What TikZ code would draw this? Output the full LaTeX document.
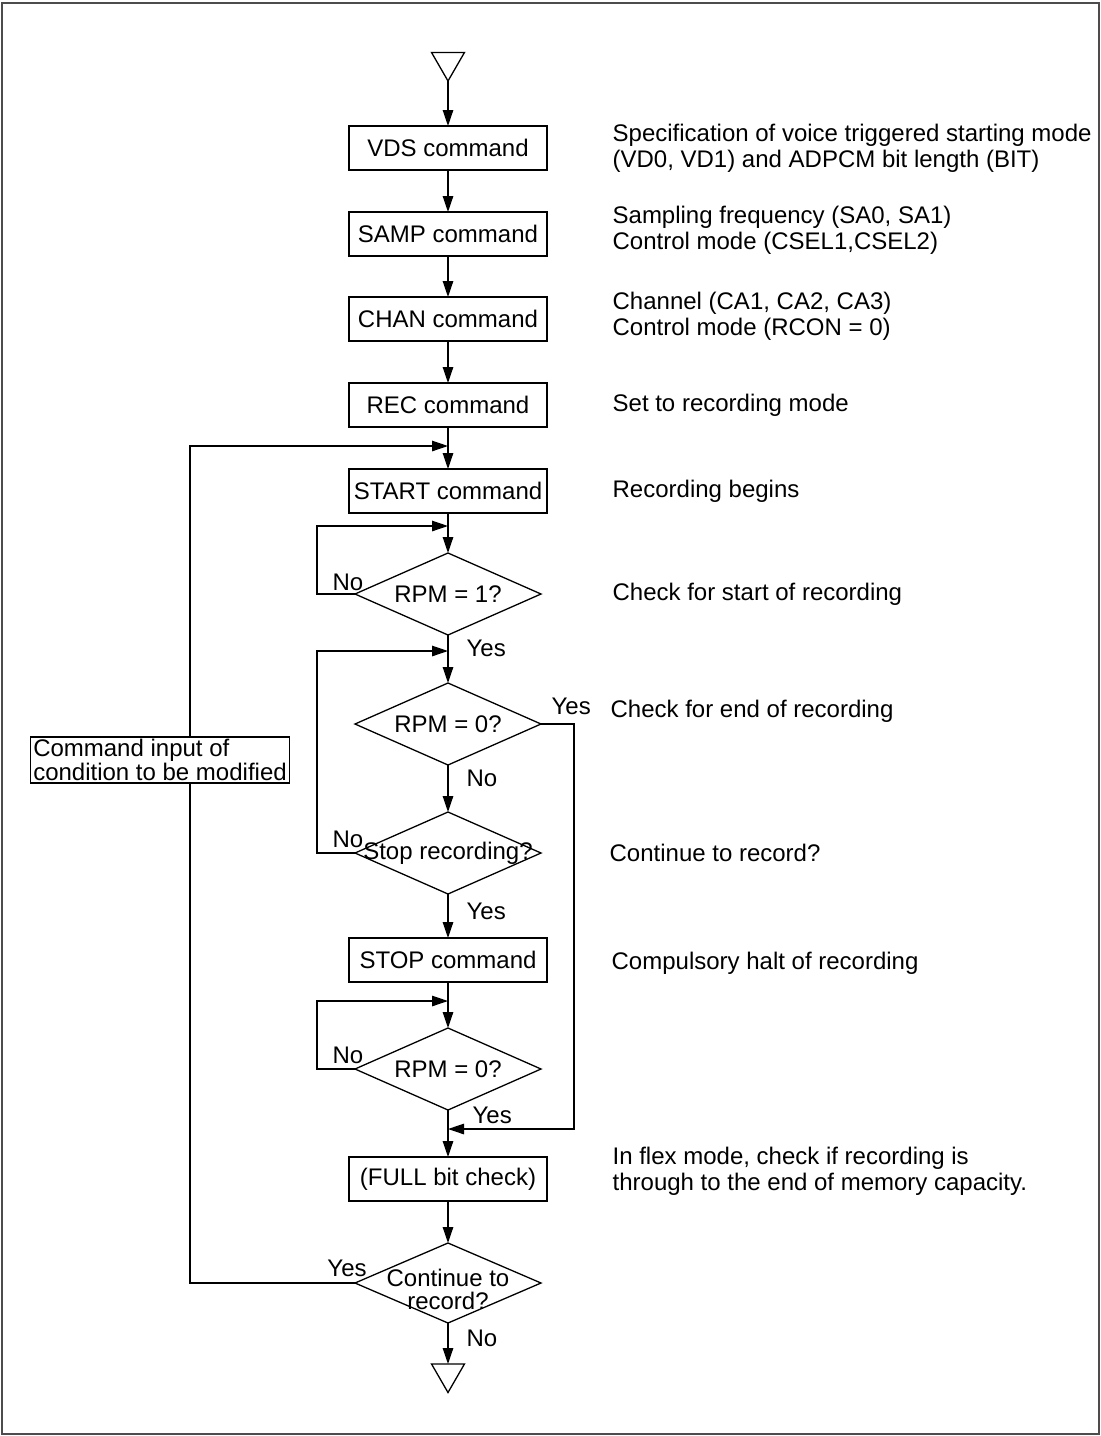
\documentclass[tikz,border=0pt]{standalone}
\usepackage{fontspec}
\setmainfont{Liberation Sans}
\usetikzlibrary{arrows.meta,positioning,shapes.geometric}

\begin{document}
\begin{tikzpicture}[
  font=\fontsize{24}{26}\selectfont,
  line width=1.3pt,
  box/.style={draw, minimum width=198pt, minimum height=44pt, inner sep=2pt,
    outer sep=0pt},
  decision/.style={draw, diamond, minimum width=186pt, minimum height=82pt,
    inner sep=0pt, outer sep=0pt},
  dtext/.style={inner sep=0pt, align=center, font=\fontsize{24}{23}\selectfont},
  terminal/.style={draw, regular polygon, regular polygon sides=3,
    shape border rotate=180, minimum size=38pt, inner sep=0pt, outer sep=0pt},
  note/.style={align=left, inner sep=0pt},
  tag/.style={inner sep=0pt, anchor=base},
  cmdbox/.style={draw, fill=white, align=left, inner sep=2.5pt,
    font=\fontsize{24}{18}\selectfont},
  arrow/.style={-{Triangle[length=16pt,width=10.5pt]}},
  node distance=42pt
]
\useasboundingbox (0,0) rectangle (1101pt,-1436pt);
\draw[black!70, line width=1.5pt] (2pt,-3pt) rectangle (1099pt,-1434pt);

% main column
\node[box] (vds) at (448pt,-148pt) {VDS command};
\node[terminal, above=45pt of vds] (begin) {};
\node[box, below=of vds] (samp) {SAMP command};
\node[box, below=41pt of samp] (chan) {CHAN command};
\node[box, below=of chan] (rec) {REC command};
\node[box, below=of rec] (start) {START command};
\node[decision, below=40pt of start, label={[dtext]center:RPM = 1?}] (rpmone) {};
\node[decision, below=48pt of rpmone, label={[dtext]center:RPM = 0?}] (rpmzero) {};
\node[decision, below=47pt of rpmzero, label={[dtext]center:Stop recording?}] (stoprec) {};
\node[box, below=44pt of stoprec] (stop) {STOP command};
\node[decision, below=46pt of stop, label={[dtext]center:RPM = 0?}] (rpmzerob) {};
\node[box, below=47pt of rpmzerob] (full) {(FULL bit check)};
\node[decision, minimum height=80pt, below=of full,
  label={[dtext,yshift=-6pt]center:Continue to\\record?}] (cont) {};
\node[terminal, below=41pt of cont] (finish) {};

% notes on the right
\node[note, right=65pt of vds] (vdsnote) {Specification of voice triggered starting mode\\(VD0, VD1) and ADPCM bit length (BIT)};
\node[note, right=65pt of samp, yshift=4pt] (sampnote) {Sampling frequency (SA0, SA1)\\Control mode (CSEL1,CSEL2)};
\node[note, right=65pt of chan, yshift=3pt] (channote) {Channel (CA1, CA2, CA3)\\Control mode (RCON = 0)};
\node[note, right=65pt of rec] (recnote) {Set to recording mode};
\node[note, right=65pt of start] (startnote) {Recording begins};
\node[note, right=71pt of rpmone] (rpmonenote) {Check for start of recording};
\node[note, right=69pt of rpmzero, yshift=13pt] (rpmzeronote) {Check for end of recording};
\node[note, right=68pt of stoprec] (stoprecnote) {Continue to record?};
\node[note, right=64pt of stop, yshift=-3pt] (stopnote) {Compulsory halt of recording};
\node[note, right=65pt of full, yshift=8pt] (fullnote) {In flex mode, check if recording is\\through to the end of memory capacity.};

% branch labels
\node[tag] at ([xshift=-7pt,yshift=4pt]rpmone.west) {No};
\node[tag, anchor=base west] at ([xshift=18pt,yshift=-21pt]rpmone.south) {Yes};
\node[tag, anchor=base west] at ([xshift=10pt,yshift=10pt]rpmzero.east) {Yes};
\node[tag, anchor=base west] at ([xshift=18pt,yshift=-21pt]rpmzero.south) {No};
\node[tag] at ([xshift=-7pt,yshift=6pt]stoprec.west) {No};
\node[tag, anchor=base west] at ([xshift=18pt,yshift=-25pt]stoprec.south) {Yes};
\node[tag] at ([xshift=-7pt,yshift=6pt]rpmzerob.west) {No};
\node[tag, anchor=base west] at ([xshift=24pt,yshift=-13pt]rpmzerob.south) {Yes};
\node[tag] at ([xshift=-8pt,yshift=7pt]cont.west) {Yes};
\node[tag, anchor=base west] at ([xshift=18pt,yshift=-23pt]cont.south) {No};

% junctions on the main line
\coordinate (jstart) at ([yshift=-19pt]rec.south);
\coordinate (jone) at ([yshift=-13pt]start.south);
\coordinate (jtwo) at ([yshift=-16pt]rpmone.south);
\coordinate (jthree) at ([yshift=-19pt]stop.south);
\coordinate (jfour) at ([yshift=-19pt]rpmzerob.south);

\draw[arrow] (begin.south) -- (vds.north);
\draw[arrow] (vds.south) -- (samp.north);
\draw[arrow] (samp.south) -- (chan.north);
\draw[arrow] (chan.south) -- (rec.north);
\draw[arrow] (rec.south) -- (start.north);
\draw[arrow] (start.south) -- (rpmone.north);
\draw[arrow] (rpmone.south) -- (rpmzero.north);
\draw[arrow] (rpmzero.south) -- (stoprec.north);
\draw[arrow] (stoprec.south) -- (stop.north);
\draw[arrow] (stop.south) -- (rpmzerob.north);
\draw[arrow] (rpmzerob.south) -- (full.north);
\draw[arrow] (full.south) -- (cont.north);
\draw[arrow] (cont.south) -- (finish.north);

\draw[arrow] (rpmone.west) -- ++(-38pt,0) |- (jone);
\draw[arrow] (stoprec.west) -- ++(-38pt,0) |- (jtwo);
\draw[arrow] (rpmzerob.west) -- ++(-38pt,0) |- (jthree);
\draw[arrow] (rpmzero.east) -- ++(33pt,0) |- (jfour);
\draw[arrow] (cont.west) -- ++(-165pt,0) |- (jstart);

\node[cmdbox] (modify) at ([xshift=-288pt,yshift=-36pt]rpmzero) {Command input of\\condition to be modified};
\end{tikzpicture}
\end{document}
